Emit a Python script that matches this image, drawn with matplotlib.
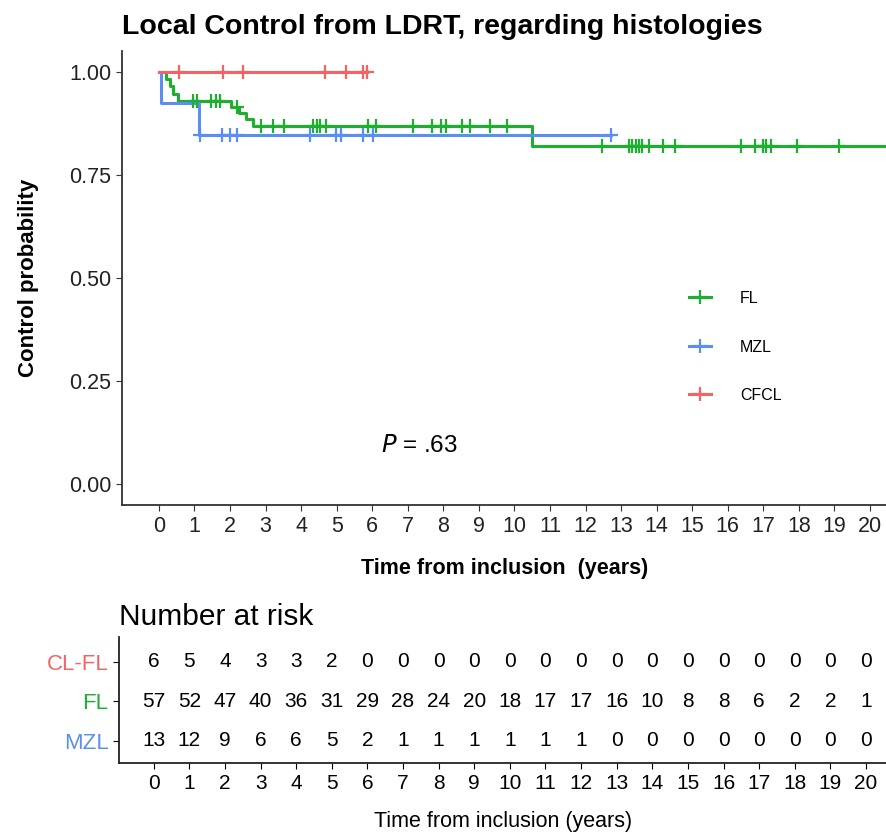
import numpy as np
import matplotlib
matplotlib.use("Agg")
import matplotlib.pyplot as plt
from matplotlib.lines import Line2D

plt.rcParams['font.family'] = ['Liberation Sans', 'DejaVu Sans']

# Kaplan-Meier steps (time in years, survival after the step)
fl_times = [0, 0.2, 0.3, 0.4, 0.55, 2.04, 2.25, 2.45, 2.65, 10.5, 20.6]
fl_surv = [1.0, 0.982, 0.965, 0.947, 0.930, 0.915, 0.900, 0.885, 0.869, 0.819, 0.819]
fl_cens = [0.96, 1.06, 1.47, 1.61, 1.71, 2.2, 2.88, 3.21, 3.51, 4.33, 4.44, 4.52, 4.71,
           5.88, 6.11, 7.14, 7.69, 7.94, 8.08, 8.53, 8.74, 9.3, 9.78,
           12.46, 13.23, 13.32, 13.42, 13.51, 13.6, 13.79, 14.19, 14.51,
           16.36, 16.77, 16.98, 17.07, 17.21, 17.96, 19.13]

mzl_times = [0, 0.05, 1.13, 12.71]
mzl_surv = [1.0, 0.923, 0.846, 0.846]
mzl_cens = [1.15, 1.76, 1.99, 2.2, 4.26, 4.99, 5.13, 5.74, 6.02, 12.71]

cfcl_times = [0, 5.85]
cfcl_surv = [1.0, 1.0]
cfcl_cens = [0.57, 1.81, 2.37, 4.66, 5.27, 5.74, 5.85]

# number at risk table
risk_years = list(range(21))
risk_cl_fl = [6, 5, 4, 3, 3, 2, 0, 0, 0, 0, 0, 0, 0, 0, 0, 0, 0, 0, 0, 0, 0]
risk_fl = [57, 52, 47, 40, 36, 31, 29, 28, 24, 20, 18, 17, 17, 16, 10, 8, 8, 6, 2, 2, 1]
risk_mzl = [13, 12, 9, 6, 6, 5, 2, 1, 1, 1, 1, 1, 1, 0, 0, 0, 0, 0, 0, 0, 0]

green = '#1DAF2E'
blue = '#5B8EF4'
red = '#F26464'

fig = plt.figure(figsize=(8.87, 8.36), dpi=100)

ax = fig.add_axes([0.1375, 0.3959, 0.8625, 0.5431])

curves = [
    (fl_times, fl_surv, fl_cens, green),
    (mzl_times, mzl_surv, mzl_cens, blue),
    (cfcl_times, cfcl_surv, cfcl_cens, red),
]
for t, s, c, col in curves:
    ax.step(t, s, where='post', color=col, lw=2.2, zorder=3)
    idx = np.searchsorted(t, c, side='right') - 1
    ax.plot(c, np.array(s)[idx], ls='none', marker='+', ms=10, mew=1.6,
            color=col, zorder=4)

ax.set_xlim(-1.04, 20.48)
ax.set_ylim(-0.05, 1.05)
ax.set_xticks(range(21))
ax.set_yticks([0, 0.25, 0.5, 0.75, 1.0])
ax.set_yticklabels(['0.00', '0.25', '0.50', '0.75', '1.00'])
for sp in ['top', 'right']:
    ax.spines[sp].set_visible(False)
for sp in ['left', 'bottom']:
    ax.spines[sp].set_color('#333333')
    ax.spines[sp].set_linewidth(1.3)
ax.tick_params(labelsize=15.5, length=4, color='#333333', labelcolor='#222222')
ax.tick_params(axis='x', pad=4)
ax.set_xlabel('Time from inclusion  (years)', fontsize=15.5, fontweight='bold', labelpad=15)
ax.set_ylabel('Control probability', fontsize=16, fontweight='bold', labelpad=22)
ax.set_title('Local Control from LDRT, regarding histologies', fontsize=20.5,
             fontweight='bold', loc='left', x=0.0, pad=12)

ax.text(6.25, 0.094, r'$P$ = .63', fontsize=17.5, va='center', ha='left')

handles = [Line2D([], [], color=col, lw=2.2, marker='+', ms=10, mew=1.6)
           for col in (green, blue, red)]
ax.legend(handles, ['FL', 'MZL', 'CFCL'], loc='center left', frameon=False,
          bbox_to_anchor=(0.722, 0.348), fontsize=11.5, handlelength=1.4,
          labelspacing=2.1, handletextpad=1.8)

# risk table
ax2 = fig.add_axes([0.134, 0.0873, 0.866, 0.1507])
rows = [(risk_cl_fl, 2), (risk_fl, 1), (risk_mzl, 0)]
for vals, yv in rows:
    for x, v in zip(risk_years, vals):
        ax2.text(x, yv, str(v), ha='center', va='center', fontsize=15)
ax2.set_xlim(-0.98, 20.59)
ax2.set_ylim(-0.56, 2.63)
ax2.set_xticks(range(21))
ax2.set_yticks([2, 1, 0])
ax2.set_yticklabels(['CL-FL', 'FL', 'MZL'])
for lab, col in zip(ax2.get_yticklabels(), (red, green, blue)):
    lab.set_color(col)
for sp in ['top', 'right']:
    ax2.spines[sp].set_visible(False)
for sp in ['left', 'bottom']:
    ax2.spines[sp].set_color('#222222')
    ax2.spines[sp].set_linewidth(1.3)
ax2.tick_params(axis='x', labelsize=15, length=4, pad=4)
ax2.tick_params(axis='y', labelsize=16, length=4)
ax2.set_xlabel('Time from inclusion (years)', fontsize=15.5)
ax2.xaxis.set_label_coords(0.5, -0.38)
ax2.set_title('Number at risk', fontsize=21.5, loc='left', pad=9)

fig.savefig('out.png', dpi=100)
